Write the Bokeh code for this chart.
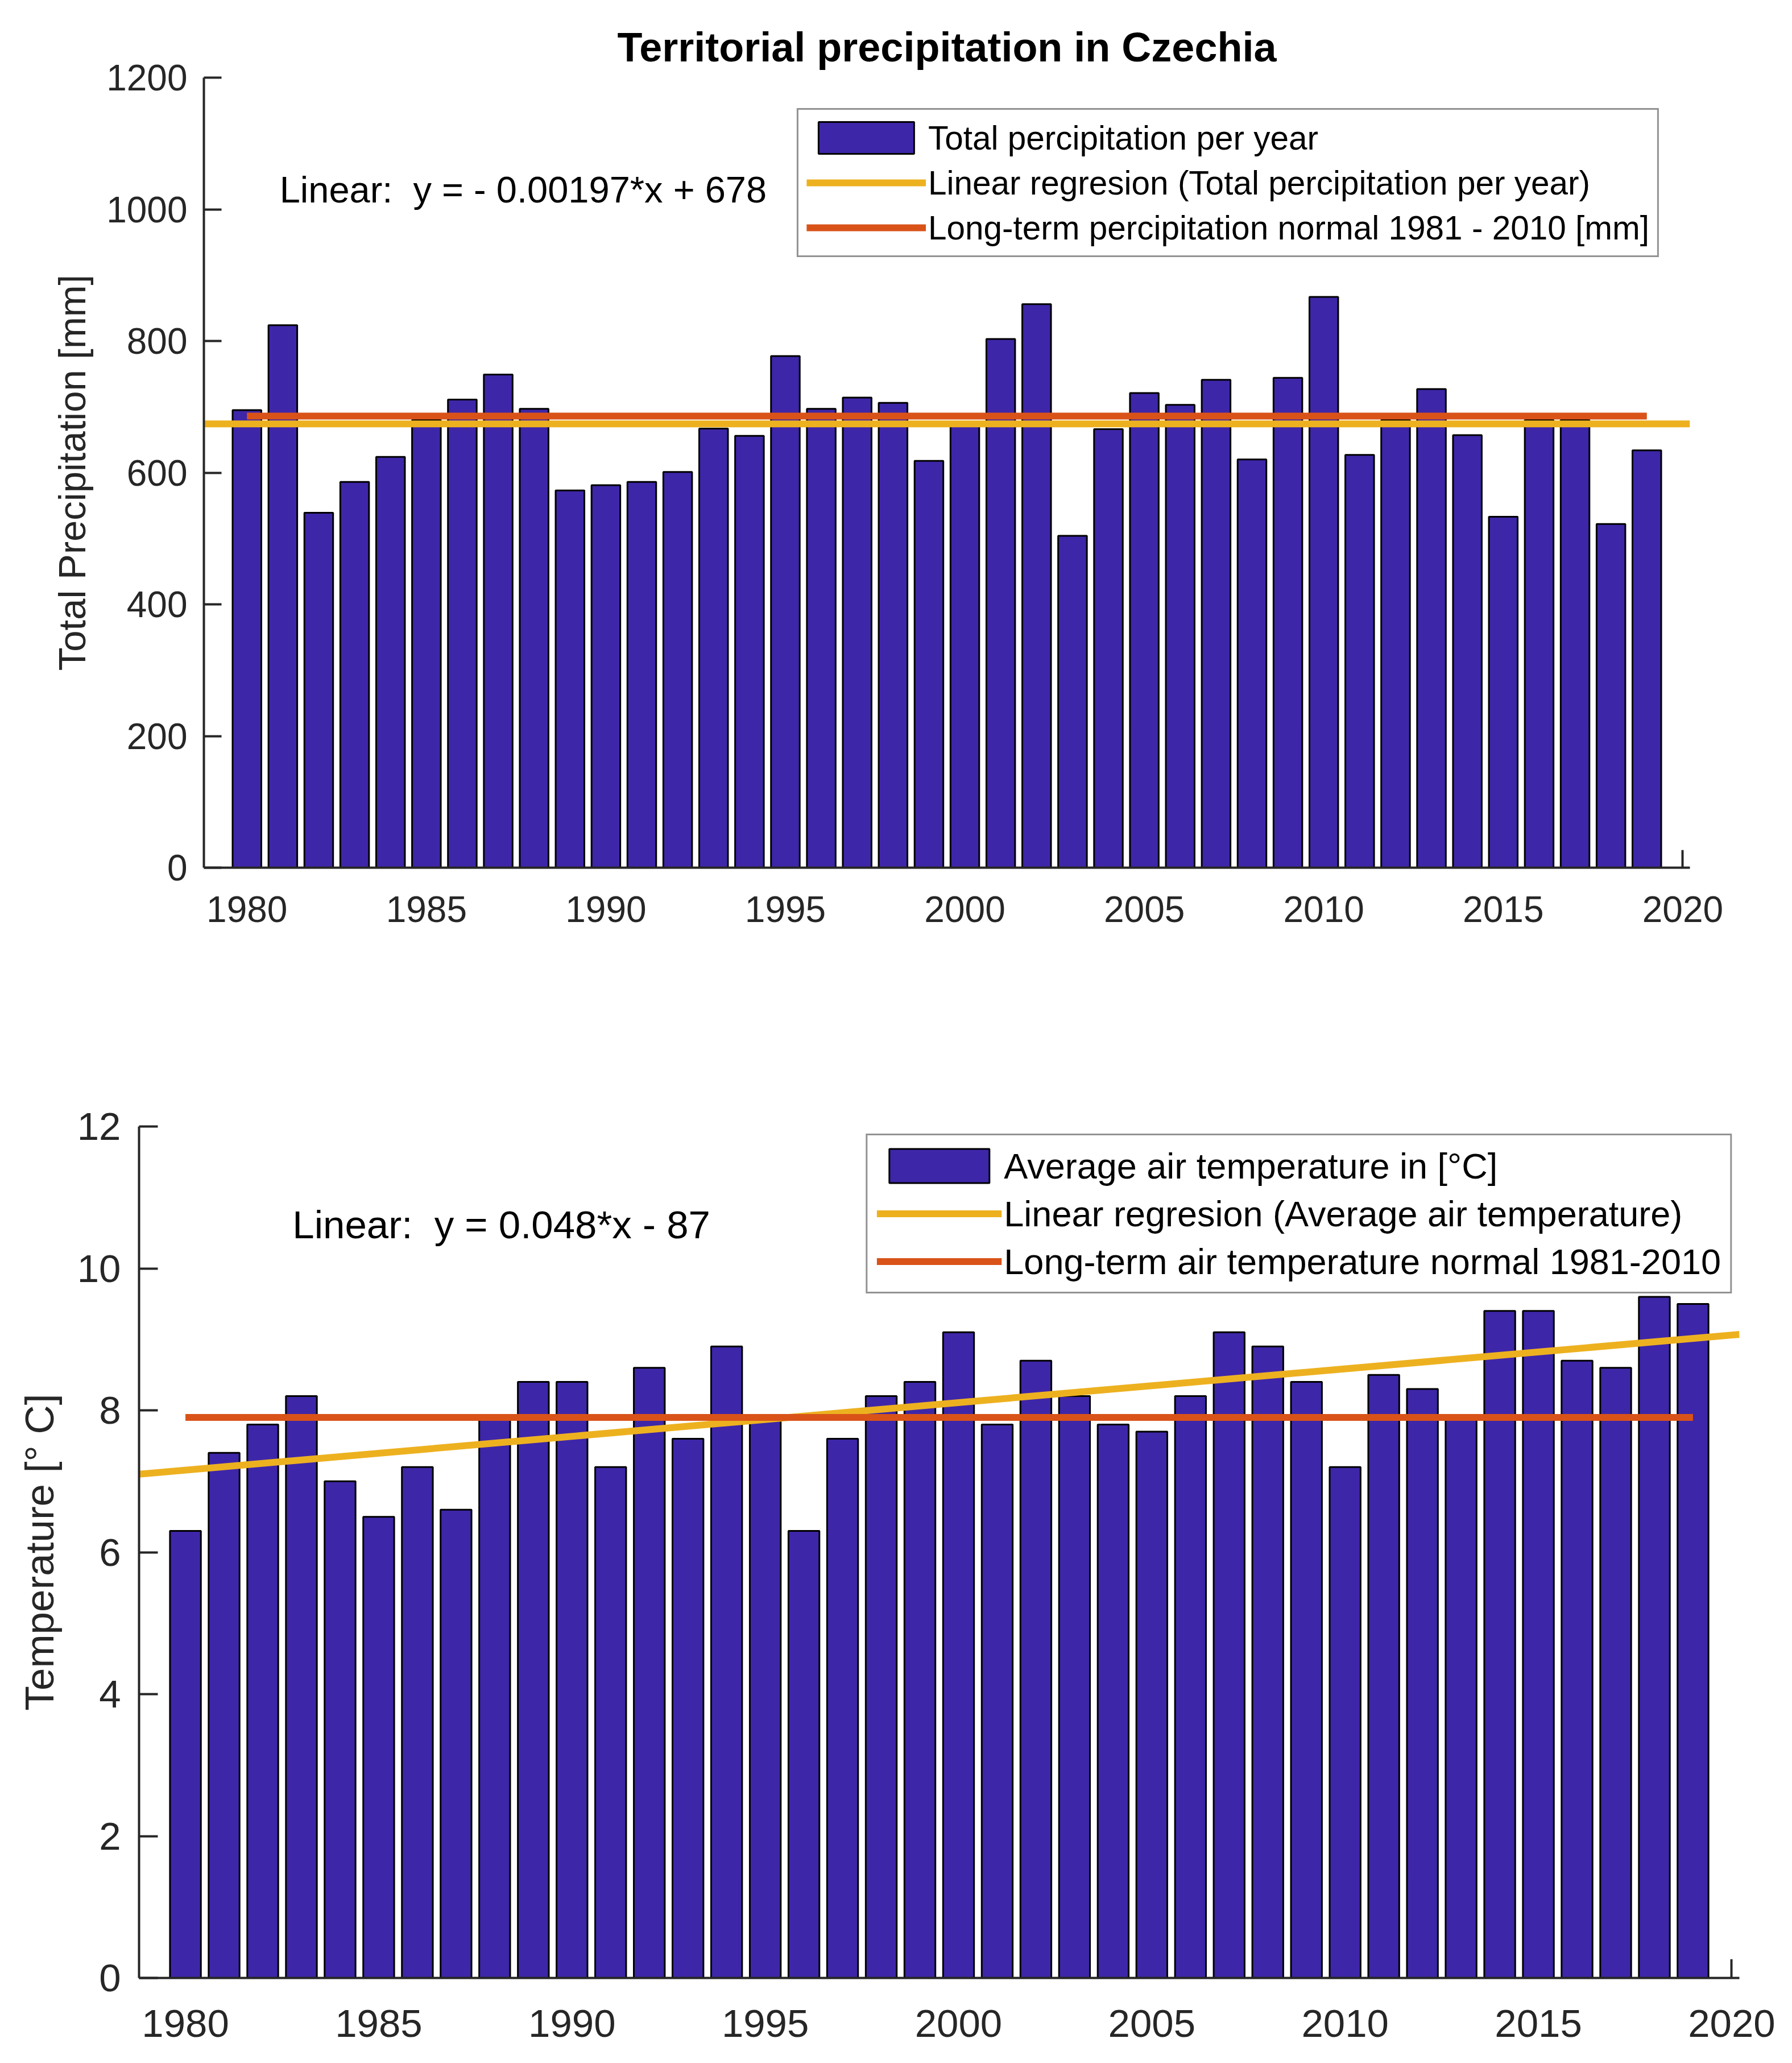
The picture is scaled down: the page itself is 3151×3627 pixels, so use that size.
from bokeh.plotting import figure
from bokeh.models import Range1d, FixedTicker, Label, Legend, LegendItem, ColumnDataSource
from bokeh.embed import file_html
from bokeh.resources import INLINE

# ---------------- data ----------------
years = list(range(1980, 2020))
precipitation = [695, 824, 539, 586, 624, 680, 711, 749, 697, 573,
                 581, 586, 601, 667, 656, 777, 697, 714, 706, 618,
                 675, 803, 856, 504, 666, 721, 703, 741, 620, 744,
                 867, 627, 680, 727, 657, 533, 680, 680, 522, 634]
temperature = [6.3, 7.4, 7.8, 8.2, 7.0, 6.5, 7.2, 6.6, 7.9, 8.4,
               8.4, 7.2, 8.6, 7.6, 8.9, 7.9, 6.3, 7.6, 8.2, 8.4,
               9.1, 7.8, 8.7, 8.2, 7.8, 7.7, 8.2, 9.1, 8.9, 8.4,
               7.2, 8.5, 8.3, 7.9, 9.4, 9.4, 8.7, 8.6, 9.6, 9.5]

reg_x = [1978.8, 2020.2]
precip_reg_y = [674.1, 674.0]
temp_reg_y = [7.10, 9.07]
normal_x = [1980, 2019]
precip_normal_y = [686, 686]
temp_normal_y = [7.9, 7.9]

x_ticks = [1980, 1985, 1990, 1995, 2000, 2005, 2010, 2015, 2020]
x_visible_tick = [2020]
precip_ticks = [0, 200, 400, 600, 800, 1000, 1200]
temp_ticks = [0, 2, 4, 6, 8, 10, 12]

title_text = "Territorial precipitation in Czechia"
precip_labels = ["Total percipitation per year",
                 "Linear regresion (Total percipitation per year)",
                 "Long-term percipitation normal 1981 - 2010 [mm]"]
temp_labels = ["Average air temperature in [\u00b0C]",
               "Linear regresion (Average air temperature)",
               "Long-term air temperature normal 1981-2010"]
precip_eq = "Linear: \u00a0y = - 0.00197*x + 678"
temp_eq = "Linear: \u00a0y = 0.048*x - 87"

FONT = "Liberation Sans"
AX = "#262626"
BAR = "#3E26A8"
YEL = "#EDB120"
ORA = "#D95319"


def style(p, tick_fs, label_fs, ylabel, tick_len, xstand, ystand, lstand):
    p.xgrid.visible = False
    p.ygrid.visible = False
    p.outline_line_color = None
    p.background_fill_color = "white"
    p.border_fill_color = "white"
    for ax in (p.xaxis, p.yaxis):
        ax.axis_line_color = AX
        ax.axis_line_width = 4
        ax.major_tick_line_color = AX
        ax.major_tick_line_width = 4
        ax.major_tick_out = 0
        ax.minor_tick_out = 0
        ax.major_label_text_font = FONT
        ax.major_label_text_font_size = tick_fs
        ax.major_label_text_color = AX
    # x: ticks are hidden behind the bars in the reference; only 2020 shows
    p.xaxis.major_tick_in = 0
    p.xaxis.minor_tick_in = tick_len
    p.xaxis.minor_tick_line_color = AX
    p.xaxis.minor_tick_line_width = 4
    p.yaxis.major_tick_in = tick_len
    p.yaxis.minor_tick_in = 0
    p.yaxis.minor_tick_line_color = None
    p.xaxis.major_label_standoff = xstand
    p.yaxis.major_label_standoff = ystand
    p.yaxis.axis_label = ylabel
    p.yaxis.axis_label_text_font = FONT
    p.yaxis.axis_label_text_font_size = label_fs
    p.yaxis.axis_label_text_font_style = "normal"
    p.yaxis.axis_label_text_color = AX
    p.yaxis.axis_label_standoff = lstand


def add_series(p, values, reg_y, norm_y, labels, legend_kw):
    src = ColumnDataSource(dict(year=years, value=values))
    bars = p.vbar(x="year", top="value", bottom=0, width=0.8, source=src,
                  fill_color=BAR, line_color="black", line_width=3)
    reg = p.line(reg_x, reg_y, line_color=YEL, line_width=12)
    norm = p.line(normal_x, norm_y, line_color=ORA, line_width=12)
    legend = Legend(items=[LegendItem(label=labels[0], renderers=[bars]),
                           LegendItem(label=labels[1], renderers=[reg]),
                           LegendItem(label=labels[2], renderers=[norm])],
                    location="top_right",
                    border_line_color=AX, border_line_width=3,
                    background_fill_color="white", background_fill_alpha=1.0,
                    label_text_font=FONT, label_text_color="black",
                    **legend_kw)
    p.add_layout(legend)


# ---------------- top figure ----------------
p1 = figure(width=3140, height=1720,
            x_range=Range1d(1978.8, 2020.2), y_range=Range1d(0, 1200),
            output_backend="svg", toolbar_location=None,
            min_border_left=358, min_border_right=169,
            min_border_top=136, min_border_bottom=195)
p1.xaxis.ticker = FixedTicker(ticks=x_ticks, minor_ticks=x_visible_tick)
p1.yaxis.ticker = FixedTicker(ticks=precip_ticks)
p1.title.text = title_text
p1.title.align = "center"
p1.title.text_font = FONT
p1.title.text_font_size = "72px"
p1.title.text_font_style = "bold"
p1.title.text_color = "black"
p1.title.standoff = 28
style(p1, "64px", "67px", "Total Precipitation [mm]", 31, 50, 29, 20)
add_series(p1, precipitation, precip_reg_y, precip_normal_y, precip_labels,
           dict(label_text_font_size="58.5px", glyph_width=210, glyph_height=70,
                label_height=70, label_standoff=4, padding=14, spacing=9,
                margin=54))
p1.add_layout(Label(x=1980.91, y=1030, text=precip_eq, text_font=FONT,
                    text_font_size="65px", text_color="black",
                    text_baseline="alphabetic"))

# ---------------- bottom figure ----------------
p2 = figure(width=3140, height=1880,
            x_range=Range1d(1978.8, 2020.2), y_range=Range1d(0, 12),
            output_backend="svg", toolbar_location=None,
            min_border_left=244, min_border_right=82,
            min_border_top=260, min_border_bottom=123)
p2.xaxis.ticker = FixedTicker(ticks=x_ticks, minor_ticks=x_visible_tick)
p2.yaxis.ticker = FixedTicker(ticks=temp_ticks)
style(p2, "69px", "71px", "Temperature [\u00b0 C]", 33, 56, 32, 24)
add_series(p2, temperature, temp_reg_y, temp_normal_y, temp_labels,
           dict(label_text_font_size="63px", glyph_width=220, glyph_height=75,
                label_height=75, label_standoff=4, padding=16, spacing=9,
                margin=13))
p2.add_layout(Label(x=1982.77, y=10.61, text=temp_eq, text_font=FONT,
                    text_font_size="69px", text_color="black",
                    text_baseline="alphabetic"))

open("out.html", "w").write(file_html([p1, p2], INLINE))
